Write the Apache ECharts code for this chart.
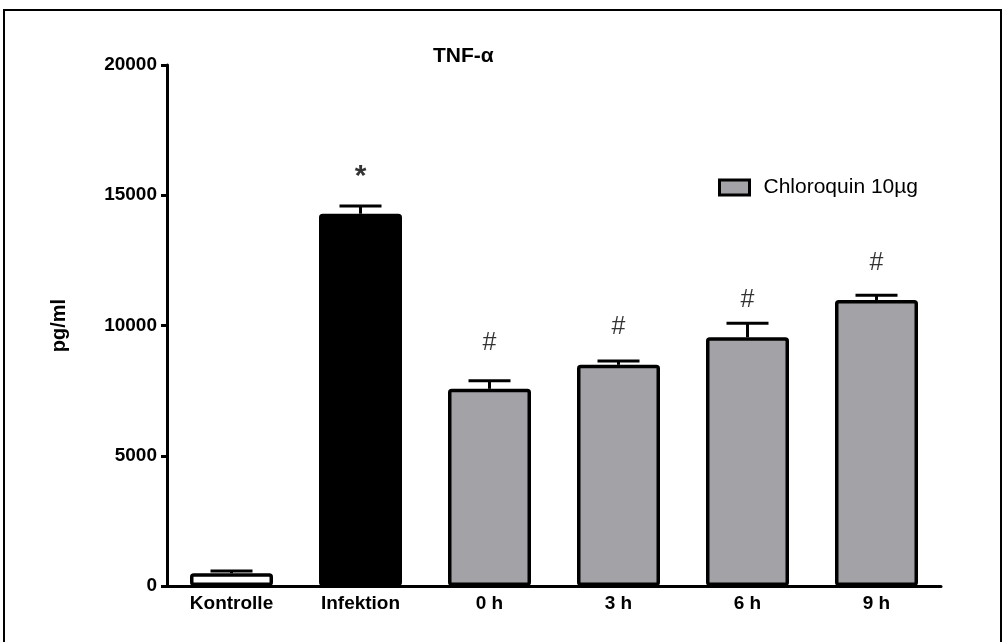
<!DOCTYPE html>
<html>
<head>
<meta charset="utf-8">
<script src="https://cdn.jsdelivr.net/npm/echarts@6/dist/echarts.min.js"></script>
<style>
  html, body { margin: 0; padding: 0; background: #fff; }
  #chart { width: 1005px; height: 642px; }
</style>
</head>
<body>
<div id="chart"></div>
<script>
// data
var categories = ['Kontrolle', 'Infektion', '0 h', '3 h', '6 h', '9 h'];
var means = [490, 14290, 7570, 8490, 9550, 10980];
var sems = [90, 300, 310, 150, 540, 180];
var treated = [false, false, true, true, true, true];
var markers = ['', '*', '#', '#', '#', '#'];
var markerY = [null, 15700, 9330, 9950, 10980, 12400];
var yTicks = [0, 5000, 10000, 15000, 20000];

var GRAY = '#a3a2a7';
var FONT = '"Liberation Sans", Arial, sans-serif';

var myChart = echarts.init(document.getElementById('chart'));

var controlData = categories.map(function (c, i) {
  if (treated[i]) return '-';
  return { value: means[i], itemStyle: { color: i === 0 ? '#ffffff' : '#000000' } };
});
var chloroData = categories.map(function (c, i) {
  return treated[i] ? means[i] : '-';
});
var errData = categories.map(function (c, i) {
  return [i, means[i], sems[i]];
});
var markData = categories.map(function (c, i) {
  if (!markers[i]) return { value: [i, null, ''] };
  var star = markers[i] === '*';
  return {
    value: [i, markerY[i], markers[i]],
    label: { fontSize: star ? 30 : 25, fontWeight: star ? 'bold' : 'normal' }
  };
});

var option = {
  animation: false,
  textStyle: { fontFamily: FONT },
  title: {
    text: 'TNF-α',
    left: 428,
    top: 41,
    textStyle: { fontSize: 21, fontWeight: 'bold', color: '#000', fontFamily: FONT }
  },
  legend: {
    data: ['Chloroquin 10µg'],
    left: 718,
    top: 177,
    padding: 0,
    itemWidth: 30,
    itemHeight: 15,
    icon: 'rect',
    itemStyle: { borderColor: '#000', borderWidth: 3 },
    textStyle: { fontSize: 21, color: '#000', fontFamily: FONT, padding: [0, 0, 0, 9] }
  },
  graphic: [{
    type: 'rect',
    shape: { x: 4, y: 10, width: 997, height: 700 },
    style: { fill: 'none', stroke: '#000', lineWidth: 2 },
    silent: true
  }],
  grid: { left: 167, right: 64, top: 65, bottom: 56 },
  xAxis: {
    type: 'category',
    data: categories,
    axisLine: { lineStyle: { color: '#000', width: 3 } },
    axisTick: { alignWithLabel: true, length: 6, lineStyle: { color: '#000', width: 3 } },
    axisLabel: { color: '#000', fontSize: 19, fontWeight: 'bold', margin: 8, fontFamily: FONT }
  },
  yAxis: {
    type: 'value',
    min: yTicks[0],
    max: yTicks[yTicks.length - 1],
    interval: 5000,
    name: 'pg/ml',
    nameLocation: 'middle',
    nameGap: 98,
    nameRotate: 90,
    nameTextStyle: { color: '#000', fontSize: 20, fontWeight: 'bold', fontFamily: FONT },
    axisLine: { show: true, lineStyle: { color: '#000', width: 3 } },
    axisTick: { show: true, length: 6, lineStyle: { color: '#000', width: 3 } },
    axisLabel: {
      color: '#000', fontSize: 19, fontWeight: 'bold', margin: 10, fontFamily: FONT,
      formatter: function (v) { return String(v); }
    },
    splitLine: { show: false }
  },
  series: [
    {
      name: 'ctrl',
      type: 'bar',
      data: controlData,
      barWidth: 83,
      barGap: '-100%',
      itemStyle: { borderColor: '#000', borderWidth: 3.5, borderRadius: 2 }
    },
    {
      name: 'Chloroquin 10µg',
      type: 'bar',
      data: chloroData,
      barWidth: 83,
      barGap: '-100%',
      itemStyle: { color: GRAY, borderColor: '#000', borderWidth: 3.5, borderRadius: 2 }
    },
    {
      name: 'err',
      type: 'custom',
      data: errData,
      z: 5,
      renderItem: function (params, api) {
        var i = api.value(0);
        var base = api.coord([i, api.value(1)]);
        var top = api.coord([i, api.value(1) + api.value(2)]);
        var half = 21;
        var st = { stroke: '#000', lineWidth: 3 };
        return {
          type: 'group',
          children: [
            { type: 'line', shape: { x1: base[0], y1: base[1], x2: top[0], y2: top[1] }, style: st },
            { type: 'line', shape: { x1: top[0] - half, y1: top[1], x2: top[0] + half, y2: top[1] }, style: st }
          ]
        };
      }
    },
    {
      name: 'marks',
      type: 'scatter',
      data: markData,
      symbolSize: 0,
      silent: true,
      label: {
        show: true,
        position: 'inside',
        formatter: function (p) { return p.value[2]; },
        color: '#000',
        fontFamily: FONT
      }
    }
  ]
};

myChart.setOption(option);
window.addEventListener('resize', function () {
  myChart.resize();
});
</script>
</body>
</html>
